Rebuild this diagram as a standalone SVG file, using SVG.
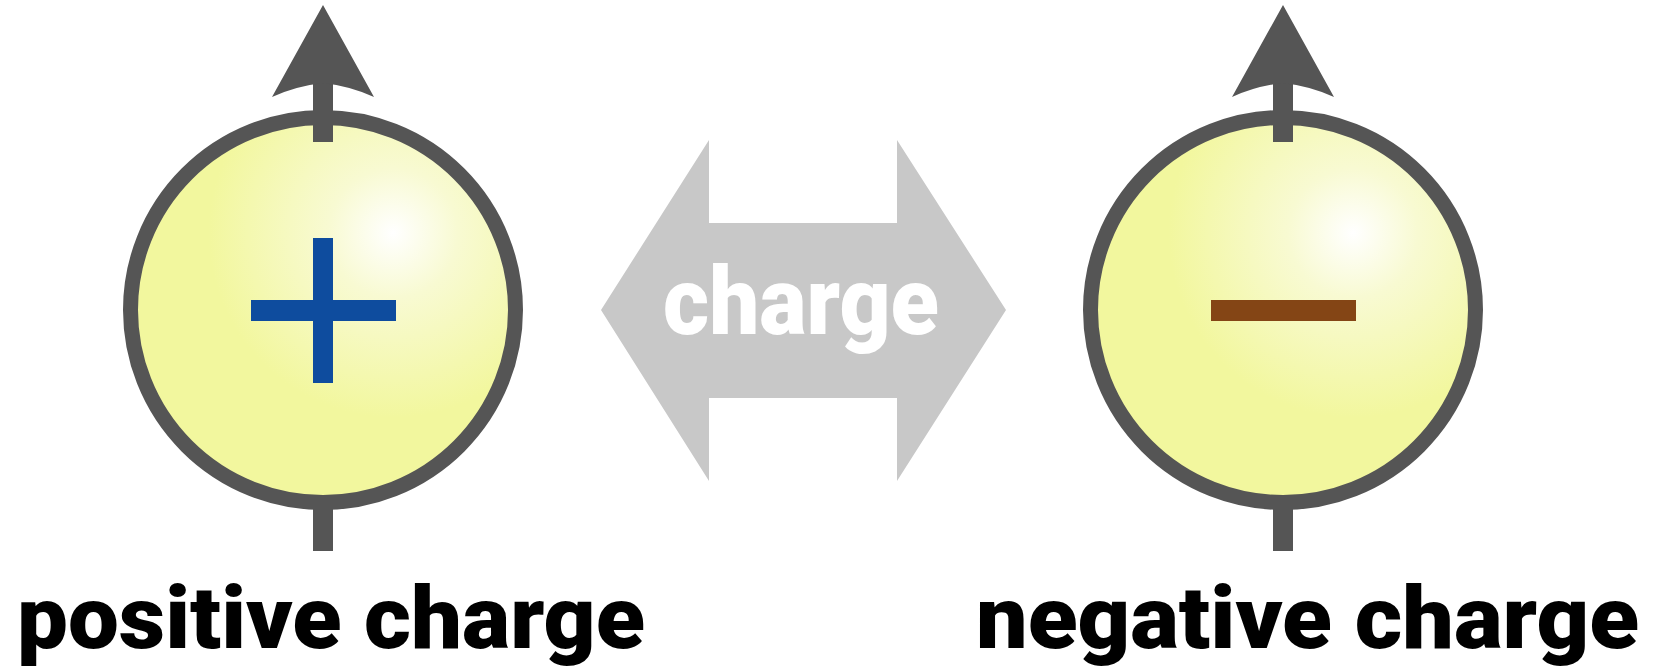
<svg xmlns="http://www.w3.org/2000/svg" width="1659" height="667" viewBox="0 0 1659 667">
<style>
.ring{fill:url(#glow);stroke:#555555;stroke-width:15}
.dark{fill:#555555}
.label{font-family:Roboto,Inter,"Liberation Sans",sans-serif;font-weight:900;font-size:88px;fill:#000000;font-variant-ligatures:none}
.mid{font-family:Roboto,Inter,"Liberation Sans",sans-serif;font-weight:900;font-size:95px;fill:#ffffff;font-variant-ligatures:none}
</style>
<defs>
<radialGradient id="glow" cx="0.682" cy="0.30" r="0.48" fx="0.682" fy="0.30">
<stop offset="0" stop-color="#ffffff"/>
<stop offset="0.35" stop-color="#f8fad2"/>
<stop offset="1" stop-color="#f2f79e"/>
</radialGradient>
<g id="dipole">
<rect class="dark" x="313" y="80" width="20" height="62"/>
<path class="dark" d="M323,5 L374,97 Q350,86 323,83 Q296,86 272,97 Z"/>
<rect class="dark" x="313" y="500" width="20" height="51"/>
</g>
</defs>
<g id="positive">
<circle class="ring" cx="323" cy="310" r="192.5"/>
<use href="#dipole"/>
<rect x="251" y="300" width="145" height="21" fill="#0e4c9e"/>
<rect x="313" y="238" width="20" height="145" fill="#0e4c9e"/>
<text class="label" x="17" y="648" textLength="628" lengthAdjust="spacingAndGlyphs">positive charge</text>
</g>
<g id="negative">
<circle class="ring" cx="1283" cy="310" r="192.5"/>
<use href="#dipole" x="960"/>
<rect x="1211" y="300" width="145" height="21" fill="#844515"/>
<text class="label" x="976" y="648" textLength="663" lengthAdjust="spacingAndGlyphs">negative charge</text>
</g>
<g id="connectors">
<path d="M601,310 L709,140 L709,223 L897,223 L897,140 L1006,310 L897,481 L897,398 L709,398 L709,481 Z" fill="#c8c8c8"/>
<text class="mid" x="663" y="334" textLength="276" lengthAdjust="spacingAndGlyphs">charge</text>
</g>
</svg>
